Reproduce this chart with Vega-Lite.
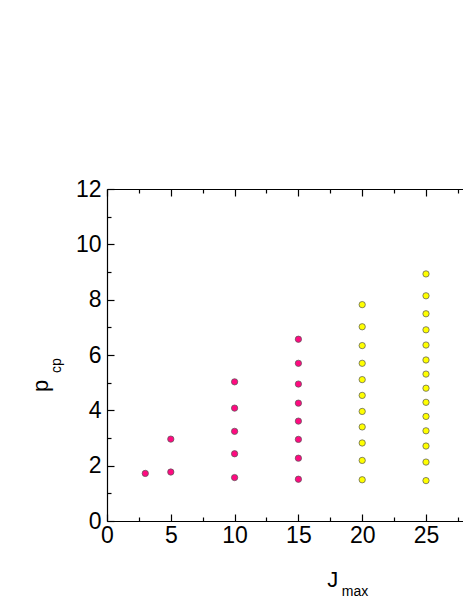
{
  "$schema": "https://vega.github.io/schema/vega-lite/v6.json",
  "autosize": "none",
  "width": 356,
  "height": 332,
  "padding": {"left": 107, "top": 189, "right": 0, "bottom": 78},
  "background": "white",
  "config": {
    "view": {"stroke": null},
    "axis": {
      "grid": false,
      "domainColor": "black",
      "domainWidth": 1.2,
      "tickColor": "black",
      "tickWidth": 1.2,
      "labelColor": "black",
      "labelFont": "Liberation Sans",
      "labelFontSize": 23
    }
  },
  "data": {
    "values": [
      {"J": 3, "p": 1.72, "g": "A"},
      {"J": 5, "p": 1.77, "g": "A"},
      {"J": 5, "p": 2.96, "g": "A"},
      {"J": 10, "p": 1.57, "g": "A"},
      {"J": 10, "p": 2.43, "g": "A"},
      {"J": 10, "p": 3.24, "g": "A"},
      {"J": 10, "p": 4.08, "g": "A"},
      {"J": 10, "p": 5.03, "g": "A"},
      {"J": 15, "p": 1.51, "g": "A"},
      {"J": 15, "p": 2.27, "g": "A"},
      {"J": 15, "p": 2.95, "g": "A"},
      {"J": 15, "p": 3.61, "g": "A"},
      {"J": 15, "p": 4.26, "g": "A"},
      {"J": 15, "p": 4.95, "g": "A"},
      {"J": 15, "p": 5.70, "g": "A"},
      {"J": 15, "p": 6.57, "g": "A"},
      {"J": 20, "p": 1.49, "g": "B"},
      {"J": 20, "p": 2.19, "g": "B"},
      {"J": 20, "p": 2.82, "g": "B"},
      {"J": 20, "p": 3.40, "g": "B"},
      {"J": 20, "p": 3.96, "g": "B"},
      {"J": 20, "p": 4.54, "g": "B"},
      {"J": 20, "p": 5.11, "g": "B"},
      {"J": 20, "p": 5.70, "g": "B"},
      {"J": 20, "p": 6.34, "g": "B"},
      {"J": 20, "p": 7.02, "g": "B"},
      {"J": 20, "p": 7.82, "g": "B"},
      {"J": 25, "p": 1.46, "g": "B"},
      {"J": 25, "p": 2.13, "g": "B"},
      {"J": 25, "p": 2.71, "g": "B"},
      {"J": 25, "p": 3.26, "g": "B"},
      {"J": 25, "p": 3.78, "g": "B"},
      {"J": 25, "p": 4.29, "g": "B"},
      {"J": 25, "p": 4.80, "g": "B"},
      {"J": 25, "p": 5.31, "g": "B"},
      {"J": 25, "p": 5.82, "g": "B"},
      {"J": 25, "p": 6.36, "g": "B"},
      {"J": 25, "p": 6.91, "g": "B"},
      {"J": 25, "p": 7.49, "g": "B"},
      {"J": 25, "p": 8.14, "g": "B"},
      {"J": 25, "p": 8.93, "g": "B"}
    ]
  },
  "layer": [
    {
      "mark": {"type": "point", "filled": true, "size": 40, "strokeWidth": 0.7, "stroke": "#555555", "opacity": 1},
      "encoding": {
        "x": {
          "field": "J", "type": "quantitative",
          "scale": {"domain": [0, 27.9], "nice": false, "zero": false},
          "axis": {
            "orient": "bottom",
            "title": null,
            "values": [0, 2.5, 5, 7.5, 10, 12.5, 15, 17.5, 20, 22.5, 25, 27.5],
            "labelExpr": "datum.value % 5 === 0 ? datum.label : ''",
            "tickSize": {"condition": {"test": "datum.value % 5 !== 0", "value": -4}, "value": -7},
            "labelPadding": 10,
            "labelFlush": false,
            "labelOverlap": false
          }
        },
        "y": {
          "field": "p", "type": "quantitative",
          "scale": {"domain": [0, 12], "nice": false},
          "axis": {
            "orient": "left",
            "title": null,
            "values": [0, 1, 2, 3, 4, 5, 6, 7, 8, 9, 10, 11, 12],
            "labelExpr": "datum.value % 2 === 0 ? datum.label : ''",
            "tickSize": {"condition": {"test": "datum.value % 2 !== 0", "value": -4}, "value": -7},
            "labelPadding": 13,
            "labelFlush": false,
            "labelOverlap": false
          }
        },
        "color": {
          "field": "g", "type": "nominal",
          "scale": {"domain": ["A", "B"], "range": ["#ff0a80", "#ffff00"]},
          "legend": null
        }
      }
    },
    {
      "mark": {"type": "point", "opacity": 0},
      "encoding": {
        "x": {
          "field": "J", "type": "quantitative",
          "axis": {
            "orient": "top",
            "title": null,
            "labels": false,
            "values": [0, 2.5, 5, 7.5, 10, 12.5, 15, 17.5, 20, 22.5, 25, 27.5],
            "tickSize": {"condition": {"test": "datum.value % 5 !== 0", "value": -4}, "value": -7}
          }
        },
        "y": {"field": "p", "type": "quantitative", "axis": null}
      }
    },
    {
      "data": {"values": [{}]},
      "mark": {"type": "text", "text": "J", "font": "Liberation Sans", "fill": "black", "fontSize": 22, "align": "center", "baseline": "alphabetic"},
      "encoding": {
        "x": {"datum": 17.7, "type": "quantitative", "axis": null},
        "y": {"datum": -2.385, "type": "quantitative", "axis": null}
      }
    },
    {
      "data": {"values": [{}]},
      "mark": {"type": "text", "text": "max", "font": "Liberation Sans", "fill": "black", "fontSize": 14, "align": "left", "baseline": "alphabetic"},
      "encoding": {
        "x": {"datum": 18.4, "type": "quantitative", "axis": null},
        "y": {"datum": -2.72, "type": "quantitative", "axis": null}
      }
    },
    {
      "data": {"values": [{}]},
      "mark": {"type": "text", "text": "p", "font": "Liberation Sans", "fill": "black", "fontSize": 22, "align": "center", "baseline": "alphabetic", "angle": 270},
      "encoding": {
        "x": {"datum": -4.66, "type": "quantitative", "axis": null},
        "y": {"datum": 4.88, "type": "quantitative", "axis": null}
      }
    },
    {
      "data": {"values": [{}]},
      "mark": {"type": "text", "text": "cp", "font": "Liberation Sans", "fill": "black", "fontSize": 14, "align": "center", "baseline": "alphabetic", "angle": 270},
      "encoding": {
        "x": {"datum": -3.6, "type": "quantitative", "axis": null},
        "y": {"datum": 5.62, "type": "quantitative", "axis": null}
      }
    }
  ],
  "resolve": {"axis": {"x": "independent", "y": "independent"}}
}
